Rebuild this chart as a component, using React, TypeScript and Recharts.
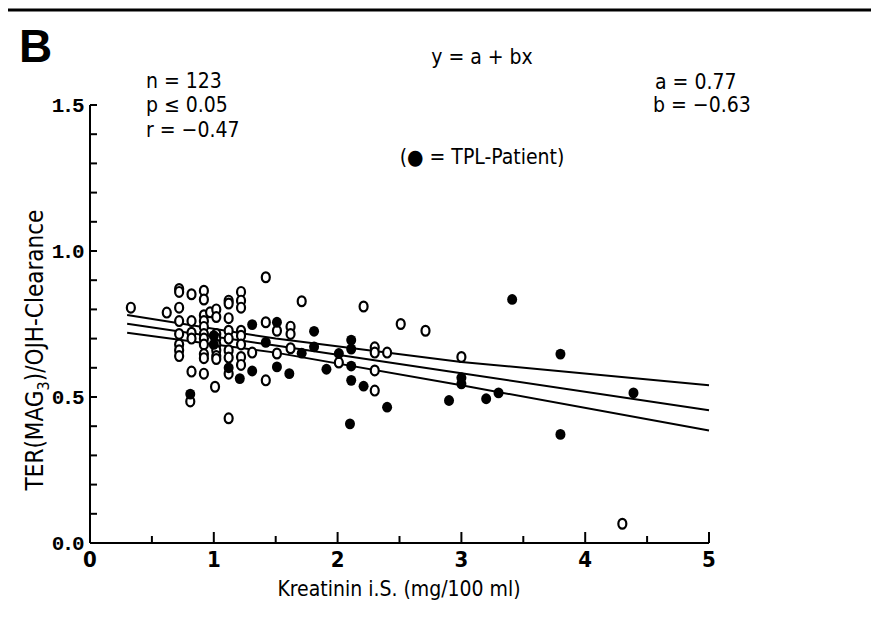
import { ScatterChart, Scatter, XAxis, YAxis } from "recharts";

// non-TPL patients (open circles)
const openX = [
  0.33, 0.62, 0.72, 0.72, 0.72, 0.72, 0.72, 0.72, 0.72, 0.72, 0.82, 0.82, 0.82, 0.82, 0.82, 0.81,
  0.92, 0.92, 0.92, 0.92, 0.92, 0.92, 0.92, 0.92, 0.92, 0.92, 0.92, 0.97, 1.02, 1.02, 1.02, 1.02,
  1.02, 1.02, 1.02, 1.02, 1.01, 1.12, 1.12, 1.12, 1.12, 1.12, 1.12, 1.12, 1.12, 1.12, 1.22, 1.22,
  1.22, 1.22, 1.22, 1.22, 1.22, 1.22, 1.31, 1.42, 1.42, 1.42, 1.51, 1.51, 1.62, 1.62, 1.62, 1.71,
  2.01, 2.21, 2.3, 2.3, 2.3, 2.3, 2.4, 2.51, 2.71, 3.0, 4.3,
];
const openY = [
  0.806, 0.789, 0.87, 0.86, 0.806, 0.76, 0.716, 0.68, 0.66, 0.64, 0.852, 0.76, 0.72, 0.7, 0.587, 0.485,
  0.864, 0.834, 0.78, 0.76, 0.74, 0.716, 0.7, 0.68, 0.647, 0.633, 0.58, 0.79, 0.8, 0.774, 0.716, 0.7,
  0.68, 0.66, 0.64, 0.63, 0.535, 0.83, 0.82, 0.77, 0.727, 0.7, 0.66, 0.635, 0.58, 0.427, 0.86, 0.83,
  0.806, 0.727, 0.71, 0.68, 0.637, 0.61, 0.652, 0.91, 0.756, 0.557, 0.727, 0.649, 0.741, 0.716, 0.667, 0.828,
  0.618, 0.81, 0.67, 0.652, 0.591, 0.522, 0.652, 0.75, 0.727, 0.637, 0.066,
];

// TPL patients (filled circles)
const tplX = [
  0.81, 1.0, 1.0, 1.12, 1.21, 1.31, 1.31, 1.42, 1.51, 1.51, 1.61, 1.71, 1.81, 1.81, 1.91, 2.01,
  2.11, 2.11, 2.11, 2.11, 2.1, 2.21, 2.4, 2.9, 3.0, 3.0, 3.2, 3.3, 3.41, 3.8, 3.8, 4.39,
];
const tplY = [
  0.51, 0.71, 0.68, 0.6, 0.563, 0.748, 0.589, 0.687, 0.756, 0.603, 0.58, 0.65, 0.725, 0.672, 0.595, 0.649,
  0.695, 0.664, 0.606, 0.557, 0.408, 0.537, 0.465, 0.488, 0.566, 0.545, 0.494, 0.514, 0.834, 0.647, 0.372, 0.514,
];

// regression line y = a + bx and its confidence limits
const fitX = [0.3, 1.5, 3, 5];
const upperY = [0.781, 0.7, 0.62, 0.54];
const fitY = [0.751, 0.676, 0.581, 0.455];
const lowerY = [0.72, 0.652, 0.54, 0.385];

const xTicks = [0, 0.5, 1, 1.5, 2, 2.5, 3, 3.5, 4, 4.5, 5];
const yTicks = [0, 0.1, 0.2, 0.3, 0.4, 0.5, 0.6, 0.7, 0.8, 0.9, 1, 1.1, 1.2, 1.3, 1.4, 1.5];

const pts = (xs: number[], ys: number[]) => xs.map((x, i) => ({ x, y: ys[i] }));

const openData = pts(openX, openY);
const tplData = pts(tplX, tplY);
const upperData = pts(fitX, upperY);
const fitData = pts(fitX, fitY);
const lowerData = pts(fitX, lowerY);

const narrow = "'Liberation Sans Narrow', 'DejaVu Sans Condensed', 'Liberation Sans', Arial, sans-serif";

const isMajor = (v: number, step: number) => Math.abs(v / step - Math.round(v / step)) < 1e-6;

const YTick = (props: any) => {
  const { x, y, payload } = props;
  const v = payload.value;
  return (
    <g>
      <line x1={x} x2={x + 7} y1={y} y2={y} stroke="#000" strokeWidth={2} />
      {isMajor(v, 0.5) && (
        <text x={x - 8} y={y} dy="0.35em" textAnchor="end" fontFamily="'Liberation Mono', monospace" fontWeight="bold" fontSize={21} letterSpacing={-2.5} fill="#000">
          {v.toFixed(1)}
        </text>
      )}
    </g>
  );
};

const XTick = (props: any) => {
  const { x, y, payload } = props;
  const v = payload.value;
  const major = isMajor(v, 1);
  return (
    <g>
      <line x1={x} x2={x} y1={y} y2={y - (major ? 11 : 7)} stroke="#000" strokeWidth={2} />
      {major && (
        <text x={x} y={y + 24} textAnchor="middle" fontFamily={narrow} fontWeight="bold" fontSize={22} fill="#000">
          {v}
        </text>
      )}
    </g>
  );
};

const openDot = (p: any) => (
  <ellipse cx={p.cx} cy={p.cy} rx={4} ry={4.9} fill="#fff" stroke="#000" strokeWidth={2.2} />
);
const tplDot = (p: any) => <ellipse cx={p.cx} cy={p.cy} rx={5} ry={5.4} fill="#000" />;
const noDot = () => <g />;

const lineStyle = { stroke: "#000", strokeWidth: 2 };

export default function App() {
  return (
    <div style={{ position: "relative", width: 879, height: 623, margin: -8, background: "#fff", overflow: "hidden" }}>
      <ScatterChart width={879} height={623} margin={{ top: 105, right: 170, bottom: 40, left: 0 }}>
        <XAxis
          type="number"
          dataKey="x"
          domain={[0, 5]}
          ticks={xTicks}
          interval={0}
          height={40}
          tickSize={0}
          tickMargin={0}
          tickLine={false}
          axisLine={{ stroke: "#000", strokeWidth: 2 }}
          tick={<XTick />}
        />
        <YAxis
          type="number"
          dataKey="y"
          domain={[0, 1.5]}
          ticks={yTicks}
          interval={0}
          width={90}
          tickSize={0}
          tickMargin={0}
          tickLine={false}
          axisLine={{ stroke: "#000", strokeWidth: 2 }}
          tick={<YTick />}
        />
        <Scatter data={upperData} line={lineStyle} shape={noDot} isAnimationActive={false} />
        <Scatter data={fitData} line={lineStyle} shape={noDot} isAnimationActive={false} />
        <Scatter data={lowerData} line={lineStyle} shape={noDot} isAnimationActive={false} />
        <Scatter data={openData} shape={openDot} isAnimationActive={false} />
        <Scatter data={tplData} shape={tplDot} isAnimationActive={false} />
      </ScatterChart>
      <svg width={879} height={623} style={{ position: "absolute", left: 0, top: 0, pointerEvents: "none" }}>
        <line x1={3} x2={3} y1={0} y2={623} stroke="#000" strokeWidth={3} />
        <line x1={0} x2={879} y1={10} y2={10} stroke="#000" strokeWidth={3} />
        <text x={19} y={62} fontFamily="'Liberation Sans', Arial, sans-serif" fontWeight="bold" fontSize={46}>B</text>
        <g fontFamily={narrow} fontSize={21} fill="#000">
          <text x={482} y={64} textAnchor="middle">y = a + bx</text>
          <text x={146} y={88}>n  = 123</text>
          <text x={146} y={112}>p ≤ 0.05</text>
          <text x={146} y={137}>r  = −0.47</text>
          <text x={655} y={89}>a  = 0.77</text>
          <text x={653} y={112}>b = −0.63</text>
          <text x={482} y={164} textAnchor="middle">(● = TPL-Patient)</text>
          <text x={399} y={596} textAnchor="middle">Kreatinin i.S. (mg/100 ml)</text>
          <text transform="translate(43,350) rotate(-90)" textAnchor="middle" fontSize={24}>
            TER(MAG<tspan fontSize={16} dy={6}>3</tspan><tspan dy={-6}>)/OJH-Clearance</tspan>
          </text>
        </g>
      </svg>
    </div>
  );
}
